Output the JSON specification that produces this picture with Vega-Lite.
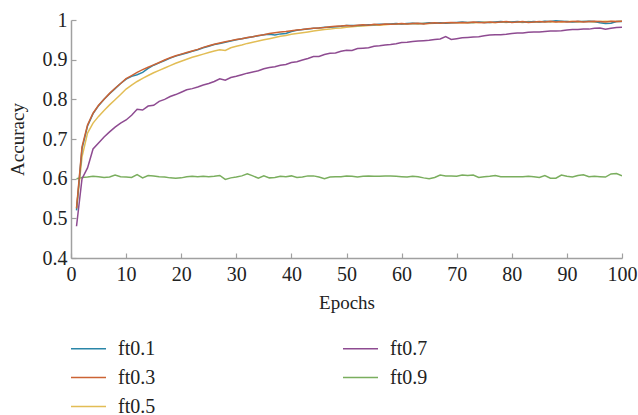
{
  "$schema": "https://vega.github.io/schema/vega-lite/v6.json",
  "width": 551,
  "height": 238,
  "autosize": {"type": "none"},
  "padding": {"left": 71, "top": 20, "right": 16, "bottom": 157},
  "background": "white",
  "config": {
    "view": {"stroke": null},
    "font": "Liberation Serif",
    "axis": {
      "grid": false,
      "domainColor": "#a0a0a0",
      "domainWidth": 1.5,
      "tickColor": "#a0a0a0",
      "tickWidth": 1.2,
      "tickSize": -5,
      "labelFont": "Liberation Serif",
      "labelFontSize": 20,
      "labelColor": "#222222",
      "titleFont": "Liberation Serif",
      "titleFontSize": 19,
      "titleFontWeight": "normal",
      "titleColor": "#222222"
    },
    "legend": {
      "labelFont": "Liberation Serif",
      "labelFontSize": 20,
      "labelColor": "#222222"
    }
  },
  "data": {"values": [
{"s":"ft0.9","e":1,"v":0.600},{"s":"ft0.9","e":2,"v":0.603},{"s":"ft0.9","e":3,"v":0.604},{"s":"ft0.9","e":4,"v":0.606},{"s":"ft0.9","e":5,"v":0.605},{"s":"ft0.9","e":6,"v":0.603},{"s":"ft0.9","e":7,"v":0.604},{"s":"ft0.9","e":8,"v":0.609},{"s":"ft0.9","e":9,"v":0.605},{"s":"ft0.9","e":10,"v":0.604},
{"s":"ft0.9","e":11,"v":0.603},{"s":"ft0.9","e":12,"v":0.610},{"s":"ft0.9","e":13,"v":0.602},{"s":"ft0.9","e":14,"v":0.608},{"s":"ft0.9","e":15,"v":0.607},{"s":"ft0.9","e":16,"v":0.605},{"s":"ft0.9","e":17,"v":0.604},{"s":"ft0.9","e":18,"v":0.602},{"s":"ft0.9","e":19,"v":0.601},{"s":"ft0.9","e":20,"v":0.602},
{"s":"ft0.9","e":21,"v":0.605},{"s":"ft0.9","e":22,"v":0.606},{"s":"ft0.9","e":23,"v":0.605},{"s":"ft0.9","e":24,"v":0.606},{"s":"ft0.9","e":25,"v":0.605},{"s":"ft0.9","e":26,"v":0.606},{"s":"ft0.9","e":27,"v":0.608},{"s":"ft0.9","e":28,"v":0.598},{"s":"ft0.9","e":29,"v":0.602},{"s":"ft0.9","e":30,"v":0.604},
{"s":"ft0.9","e":31,"v":0.607},{"s":"ft0.9","e":32,"v":0.612},{"s":"ft0.9","e":33,"v":0.607},{"s":"ft0.9","e":34,"v":0.601},{"s":"ft0.9","e":35,"v":0.607},{"s":"ft0.9","e":36,"v":0.602},{"s":"ft0.9","e":37,"v":0.603},{"s":"ft0.9","e":38,"v":0.606},{"s":"ft0.9","e":39,"v":0.605},{"s":"ft0.9","e":40,"v":0.607},
{"s":"ft0.9","e":41,"v":0.603},{"s":"ft0.9","e":42,"v":0.604},{"s":"ft0.9","e":43,"v":0.607},{"s":"ft0.9","e":44,"v":0.607},{"s":"ft0.9","e":45,"v":0.604},{"s":"ft0.9","e":46,"v":0.600},{"s":"ft0.9","e":47,"v":0.604},{"s":"ft0.9","e":48,"v":0.605},{"s":"ft0.9","e":49,"v":0.605},{"s":"ft0.9","e":50,"v":0.607},
{"s":"ft0.9","e":51,"v":0.606},{"s":"ft0.9","e":52,"v":0.604},{"s":"ft0.9","e":53,"v":0.606},{"s":"ft0.9","e":54,"v":0.607},{"s":"ft0.9","e":55,"v":0.606},{"s":"ft0.9","e":56,"v":0.606},{"s":"ft0.9","e":57,"v":0.607},{"s":"ft0.9","e":58,"v":0.607},{"s":"ft0.9","e":59,"v":0.606},{"s":"ft0.9","e":60,"v":0.605},
{"s":"ft0.9","e":61,"v":0.604},{"s":"ft0.9","e":62,"v":0.606},{"s":"ft0.9","e":63,"v":0.605},{"s":"ft0.9","e":64,"v":0.602},{"s":"ft0.9","e":65,"v":0.600},{"s":"ft0.9","e":66,"v":0.603},{"s":"ft0.9","e":67,"v":0.609},{"s":"ft0.9","e":68,"v":0.607},{"s":"ft0.9","e":69,"v":0.607},{"s":"ft0.9","e":70,"v":0.606},
{"s":"ft0.9","e":71,"v":0.609},{"s":"ft0.9","e":72,"v":0.608},{"s":"ft0.9","e":73,"v":0.609},{"s":"ft0.9","e":74,"v":0.603},{"s":"ft0.9","e":75,"v":0.605},{"s":"ft0.9","e":76,"v":0.606},{"s":"ft0.9","e":77,"v":0.608},{"s":"ft0.9","e":78,"v":0.605},{"s":"ft0.9","e":79,"v":0.605},{"s":"ft0.9","e":80,"v":0.605},
{"s":"ft0.9","e":81,"v":0.605},{"s":"ft0.9","e":82,"v":0.605},{"s":"ft0.9","e":83,"v":0.606},{"s":"ft0.9","e":84,"v":0.605},{"s":"ft0.9","e":85,"v":0.603},{"s":"ft0.9","e":86,"v":0.608},{"s":"ft0.9","e":87,"v":0.601},{"s":"ft0.9","e":88,"v":0.601},{"s":"ft0.9","e":89,"v":0.609},{"s":"ft0.9","e":90,"v":0.606},
{"s":"ft0.9","e":91,"v":0.604},{"s":"ft0.9","e":92,"v":0.608},{"s":"ft0.9","e":93,"v":0.610},{"s":"ft0.9","e":94,"v":0.605},{"s":"ft0.9","e":95,"v":0.606},{"s":"ft0.9","e":96,"v":0.605},{"s":"ft0.9","e":97,"v":0.604},{"s":"ft0.9","e":98,"v":0.612},{"s":"ft0.9","e":99,"v":0.613},{"s":"ft0.9","e":100,"v":0.607},
{"s":"ft0.7","e":1,"v":0.480},{"s":"ft0.7","e":2,"v":0.600},{"s":"ft0.7","e":3,"v":0.627},{"s":"ft0.7","e":4,"v":0.675},{"s":"ft0.7","e":5,"v":0.690},{"s":"ft0.7","e":6,"v":0.705},{"s":"ft0.7","e":7,"v":0.718},{"s":"ft0.7","e":8,"v":0.730},{"s":"ft0.7","e":9,"v":0.740},{"s":"ft0.7","e":10,"v":0.748},
{"s":"ft0.7","e":11,"v":0.760},{"s":"ft0.7","e":12,"v":0.775},{"s":"ft0.7","e":13,"v":0.773},{"s":"ft0.7","e":14,"v":0.783},{"s":"ft0.7","e":15,"v":0.785},{"s":"ft0.7","e":16,"v":0.795},{"s":"ft0.7","e":17,"v":0.800},{"s":"ft0.7","e":18,"v":0.807},{"s":"ft0.7","e":19,"v":0.812},{"s":"ft0.7","e":20,"v":0.818},
{"s":"ft0.7","e":21,"v":0.824},{"s":"ft0.7","e":22,"v":0.827},{"s":"ft0.7","e":23,"v":0.831},{"s":"ft0.7","e":24,"v":0.836},{"s":"ft0.7","e":25,"v":0.840},{"s":"ft0.7","e":26,"v":0.845},{"s":"ft0.7","e":27,"v":0.852},{"s":"ft0.7","e":28,"v":0.848},{"s":"ft0.7","e":29,"v":0.855},{"s":"ft0.7","e":30,"v":0.858},
{"s":"ft0.7","e":31,"v":0.862},{"s":"ft0.7","e":32,"v":0.866},{"s":"ft0.7","e":33,"v":0.869},{"s":"ft0.7","e":34,"v":0.872},{"s":"ft0.7","e":35,"v":0.877},{"s":"ft0.7","e":36,"v":0.880},{"s":"ft0.7","e":37,"v":0.882},{"s":"ft0.7","e":38,"v":0.886},{"s":"ft0.7","e":39,"v":0.888},{"s":"ft0.7","e":40,"v":0.893},
{"s":"ft0.7","e":41,"v":0.895},{"s":"ft0.7","e":42,"v":0.899},{"s":"ft0.7","e":43,"v":0.903},{"s":"ft0.7","e":44,"v":0.908},{"s":"ft0.7","e":45,"v":0.908},{"s":"ft0.7","e":46,"v":0.913},{"s":"ft0.7","e":47,"v":0.916},{"s":"ft0.7","e":48,"v":0.917},{"s":"ft0.7","e":49,"v":0.921},{"s":"ft0.7","e":50,"v":0.924},
{"s":"ft0.7","e":51,"v":0.923},{"s":"ft0.7","e":52,"v":0.928},{"s":"ft0.7","e":53,"v":0.929},{"s":"ft0.7","e":54,"v":0.930},{"s":"ft0.7","e":55,"v":0.934},{"s":"ft0.7","e":56,"v":0.935},{"s":"ft0.7","e":57,"v":0.937},{"s":"ft0.7","e":58,"v":0.938},{"s":"ft0.7","e":59,"v":0.940},{"s":"ft0.7","e":60,"v":0.943},
{"s":"ft0.7","e":61,"v":0.944},{"s":"ft0.7","e":62,"v":0.946},{"s":"ft0.7","e":63,"v":0.947},{"s":"ft0.7","e":64,"v":0.948},{"s":"ft0.7","e":65,"v":0.949},{"s":"ft0.7","e":66,"v":0.951},{"s":"ft0.7","e":67,"v":0.952},{"s":"ft0.7","e":68,"v":0.958},{"s":"ft0.7","e":69,"v":0.951},{"s":"ft0.7","e":70,"v":0.953},
{"s":"ft0.7","e":71,"v":0.955},{"s":"ft0.7","e":72,"v":0.956},{"s":"ft0.7","e":73,"v":0.957},{"s":"ft0.7","e":74,"v":0.958},{"s":"ft0.7","e":75,"v":0.960},{"s":"ft0.7","e":76,"v":0.962},{"s":"ft0.7","e":77,"v":0.963},{"s":"ft0.7","e":78,"v":0.963},{"s":"ft0.7","e":79,"v":0.964},{"s":"ft0.7","e":80,"v":0.966},
{"s":"ft0.7","e":81,"v":0.967},{"s":"ft0.7","e":82,"v":0.967},{"s":"ft0.7","e":83,"v":0.969},{"s":"ft0.7","e":84,"v":0.970},{"s":"ft0.7","e":85,"v":0.970},{"s":"ft0.7","e":86,"v":0.971},{"s":"ft0.7","e":87,"v":0.972},{"s":"ft0.7","e":88,"v":0.972},{"s":"ft0.7","e":89,"v":0.973},{"s":"ft0.7","e":90,"v":0.975},
{"s":"ft0.7","e":91,"v":0.976},{"s":"ft0.7","e":92,"v":0.976},{"s":"ft0.7","e":93,"v":0.977},{"s":"ft0.7","e":94,"v":0.977},{"s":"ft0.7","e":95,"v":0.979},{"s":"ft0.7","e":96,"v":0.980},{"s":"ft0.7","e":97,"v":0.977},{"s":"ft0.7","e":98,"v":0.979},{"s":"ft0.7","e":99,"v":0.981},{"s":"ft0.7","e":100,"v":0.982},
{"s":"ft0.5","e":1,"v":0.525},{"s":"ft0.5","e":2,"v":0.655},{"s":"ft0.5","e":3,"v":0.715},{"s":"ft0.5","e":4,"v":0.740},{"s":"ft0.5","e":5,"v":0.757},{"s":"ft0.5","e":6,"v":0.772},{"s":"ft0.5","e":7,"v":0.786},{"s":"ft0.5","e":8,"v":0.799},{"s":"ft0.5","e":9,"v":0.812},{"s":"ft0.5","e":10,"v":0.826},
{"s":"ft0.5","e":11,"v":0.836},{"s":"ft0.5","e":12,"v":0.845},{"s":"ft0.5","e":13,"v":0.853},{"s":"ft0.5","e":14,"v":0.860},{"s":"ft0.5","e":15,"v":0.867},{"s":"ft0.5","e":16,"v":0.873},{"s":"ft0.5","e":17,"v":0.879},{"s":"ft0.5","e":18,"v":0.885},{"s":"ft0.5","e":19,"v":0.891},{"s":"ft0.5","e":20,"v":0.896},
{"s":"ft0.5","e":21,"v":0.901},{"s":"ft0.5","e":22,"v":0.906},{"s":"ft0.5","e":23,"v":0.910},{"s":"ft0.5","e":24,"v":0.914},{"s":"ft0.5","e":25,"v":0.918},{"s":"ft0.5","e":26,"v":0.922},{"s":"ft0.5","e":27,"v":0.925},{"s":"ft0.5","e":28,"v":0.923},{"s":"ft0.5","e":29,"v":0.930},{"s":"ft0.5","e":30,"v":0.934},
{"s":"ft0.5","e":31,"v":0.937},{"s":"ft0.5","e":32,"v":0.941},{"s":"ft0.5","e":33,"v":0.944},{"s":"ft0.5","e":34,"v":0.947},{"s":"ft0.5","e":35,"v":0.950},{"s":"ft0.5","e":36,"v":0.953},{"s":"ft0.5","e":37,"v":0.956},{"s":"ft0.5","e":38,"v":0.959},{"s":"ft0.5","e":39,"v":0.961},{"s":"ft0.5","e":40,"v":0.964},
{"s":"ft0.5","e":41,"v":0.966},{"s":"ft0.5","e":42,"v":0.968},{"s":"ft0.5","e":43,"v":0.970},{"s":"ft0.5","e":44,"v":0.972},{"s":"ft0.5","e":45,"v":0.974},{"s":"ft0.5","e":46,"v":0.976},{"s":"ft0.5","e":47,"v":0.977},{"s":"ft0.5","e":48,"v":0.979},{"s":"ft0.5","e":49,"v":0.980},{"s":"ft0.5","e":50,"v":0.982},
{"s":"ft0.5","e":51,"v":0.983},{"s":"ft0.5","e":52,"v":0.984},{"s":"ft0.5","e":53,"v":0.985},{"s":"ft0.5","e":54,"v":0.986},{"s":"ft0.5","e":55,"v":0.987},{"s":"ft0.5","e":56,"v":0.987},{"s":"ft0.5","e":57,"v":0.988},{"s":"ft0.5","e":58,"v":0.989},{"s":"ft0.5","e":59,"v":0.989},{"s":"ft0.5","e":60,"v":0.990},
{"s":"ft0.5","e":61,"v":0.990},{"s":"ft0.5","e":62,"v":0.991},{"s":"ft0.5","e":63,"v":0.990},{"s":"ft0.5","e":64,"v":0.992},{"s":"ft0.5","e":65,"v":0.991},{"s":"ft0.5","e":66,"v":0.992},{"s":"ft0.5","e":67,"v":0.993},{"s":"ft0.5","e":68,"v":0.992},{"s":"ft0.5","e":69,"v":0.993},{"s":"ft0.5","e":70,"v":0.993},
{"s":"ft0.5","e":71,"v":0.993},{"s":"ft0.5","e":72,"v":0.994},{"s":"ft0.5","e":73,"v":0.993},{"s":"ft0.5","e":74,"v":0.994},{"s":"ft0.5","e":75,"v":0.995},{"s":"ft0.5","e":76,"v":0.994},{"s":"ft0.5","e":77,"v":0.994},{"s":"ft0.5","e":78,"v":0.995},{"s":"ft0.5","e":79,"v":0.994},{"s":"ft0.5","e":80,"v":0.995},
{"s":"ft0.5","e":81,"v":0.995},{"s":"ft0.5","e":82,"v":0.994},{"s":"ft0.5","e":83,"v":0.996},{"s":"ft0.5","e":84,"v":0.995},{"s":"ft0.5","e":85,"v":0.995},{"s":"ft0.5","e":86,"v":0.996},{"s":"ft0.5","e":87,"v":0.995},{"s":"ft0.5","e":88,"v":0.996},{"s":"ft0.5","e":89,"v":0.995},{"s":"ft0.5","e":90,"v":0.996},
{"s":"ft0.5","e":91,"v":0.996},{"s":"ft0.5","e":92,"v":0.995},{"s":"ft0.5","e":93,"v":0.996},{"s":"ft0.5","e":94,"v":0.996},{"s":"ft0.5","e":95,"v":0.995},{"s":"ft0.5","e":96,"v":0.996},{"s":"ft0.5","e":97,"v":0.997},{"s":"ft0.5","e":98,"v":0.996},{"s":"ft0.5","e":99,"v":0.996},{"s":"ft0.5","e":100,"v":0.997},
{"s":"ft0.1","e":1,"v":0.520},{"s":"ft0.1","e":2,"v":0.676},{"s":"ft0.1","e":3,"v":0.733},{"s":"ft0.1","e":4,"v":0.764},{"s":"ft0.1","e":5,"v":0.784},{"s":"ft0.1","e":6,"v":0.800},{"s":"ft0.1","e":7,"v":0.814},{"s":"ft0.1","e":8,"v":0.827},{"s":"ft0.1","e":9,"v":0.840},{"s":"ft0.1","e":10,"v":0.851},
{"s":"ft0.1","e":11,"v":0.858},{"s":"ft0.1","e":12,"v":0.862},{"s":"ft0.1","e":13,"v":0.868},{"s":"ft0.1","e":14,"v":0.878},{"s":"ft0.1","e":15,"v":0.886},{"s":"ft0.1","e":16,"v":0.892},{"s":"ft0.1","e":17,"v":0.898},{"s":"ft0.1","e":18,"v":0.904},{"s":"ft0.1","e":19,"v":0.909},{"s":"ft0.1","e":20,"v":0.913},
{"s":"ft0.1","e":21,"v":0.917},{"s":"ft0.1","e":22,"v":0.921},{"s":"ft0.1","e":23,"v":0.925},{"s":"ft0.1","e":24,"v":0.930},{"s":"ft0.1","e":25,"v":0.934},{"s":"ft0.1","e":26,"v":0.938},{"s":"ft0.1","e":27,"v":0.941},{"s":"ft0.1","e":28,"v":0.944},{"s":"ft0.1","e":29,"v":0.947},{"s":"ft0.1","e":30,"v":0.950},
{"s":"ft0.1","e":31,"v":0.953},{"s":"ft0.1","e":32,"v":0.955},{"s":"ft0.1","e":33,"v":0.958},{"s":"ft0.1","e":34,"v":0.960},{"s":"ft0.1","e":35,"v":0.963},{"s":"ft0.1","e":36,"v":0.964},{"s":"ft0.1","e":37,"v":0.962},{"s":"ft0.1","e":38,"v":0.965},{"s":"ft0.1","e":39,"v":0.966},{"s":"ft0.1","e":40,"v":0.971},
{"s":"ft0.1","e":41,"v":0.974},{"s":"ft0.1","e":42,"v":0.976},{"s":"ft0.1","e":43,"v":0.977},{"s":"ft0.1","e":44,"v":0.979},{"s":"ft0.1","e":45,"v":0.980},{"s":"ft0.1","e":46,"v":0.982},{"s":"ft0.1","e":47,"v":0.982},{"s":"ft0.1","e":48,"v":0.983},{"s":"ft0.1","e":49,"v":0.984},{"s":"ft0.1","e":50,"v":0.986},
{"s":"ft0.1","e":51,"v":0.986},{"s":"ft0.1","e":52,"v":0.986},{"s":"ft0.1","e":53,"v":0.987},{"s":"ft0.1","e":54,"v":0.988},{"s":"ft0.1","e":55,"v":0.988},{"s":"ft0.1","e":56,"v":0.989},{"s":"ft0.1","e":57,"v":0.989},{"s":"ft0.1","e":58,"v":0.990},{"s":"ft0.1","e":59,"v":0.991},{"s":"ft0.1","e":60,"v":0.990},
{"s":"ft0.1","e":61,"v":0.991},{"s":"ft0.1","e":62,"v":0.992},{"s":"ft0.1","e":63,"v":0.991},{"s":"ft0.1","e":64,"v":0.991},{"s":"ft0.1","e":65,"v":0.993},{"s":"ft0.1","e":66,"v":0.992},{"s":"ft0.1","e":67,"v":0.993},{"s":"ft0.1","e":68,"v":0.992},{"s":"ft0.1","e":69,"v":0.993},{"s":"ft0.1","e":70,"v":0.994},
{"s":"ft0.1","e":71,"v":0.995},{"s":"ft0.1","e":72,"v":0.994},{"s":"ft0.1","e":73,"v":0.994},{"s":"ft0.1","e":74,"v":0.995},{"s":"ft0.1","e":75,"v":0.994},{"s":"ft0.1","e":76,"v":0.994},{"s":"ft0.1","e":77,"v":0.995},{"s":"ft0.1","e":78,"v":0.996},{"s":"ft0.1","e":79,"v":0.995},{"s":"ft0.1","e":80,"v":0.995},
{"s":"ft0.1","e":81,"v":0.996},{"s":"ft0.1","e":82,"v":0.995},{"s":"ft0.1","e":83,"v":0.995},{"s":"ft0.1","e":84,"v":0.996},{"s":"ft0.1","e":85,"v":0.995},{"s":"ft0.1","e":86,"v":0.997},{"s":"ft0.1","e":87,"v":0.996},{"s":"ft0.1","e":88,"v":0.998},{"s":"ft0.1","e":89,"v":0.997},{"s":"ft0.1","e":90,"v":0.996},
{"s":"ft0.1","e":91,"v":0.995},{"s":"ft0.1","e":92,"v":0.996},{"s":"ft0.1","e":93,"v":0.996},{"s":"ft0.1","e":94,"v":0.997},{"s":"ft0.1","e":95,"v":0.996},{"s":"ft0.1","e":96,"v":0.993},{"s":"ft0.1","e":97,"v":0.991},{"s":"ft0.1","e":98,"v":0.992},{"s":"ft0.1","e":99,"v":0.996},{"s":"ft0.1","e":100,"v":0.996},
{"s":"ft0.3","e":1,"v":0.525},{"s":"ft0.3","e":2,"v":0.680},{"s":"ft0.3","e":3,"v":0.735},{"s":"ft0.3","e":4,"v":0.765},{"s":"ft0.3","e":5,"v":0.785},{"s":"ft0.3","e":6,"v":0.800},{"s":"ft0.3","e":7,"v":0.815},{"s":"ft0.3","e":8,"v":0.828},{"s":"ft0.3","e":9,"v":0.840},{"s":"ft0.3","e":10,"v":0.852},
{"s":"ft0.3","e":11,"v":0.860},{"s":"ft0.3","e":12,"v":0.868},{"s":"ft0.3","e":13,"v":0.875},{"s":"ft0.3","e":14,"v":0.881},{"s":"ft0.3","e":15,"v":0.887},{"s":"ft0.3","e":16,"v":0.893},{"s":"ft0.3","e":17,"v":0.899},{"s":"ft0.3","e":18,"v":0.905},{"s":"ft0.3","e":19,"v":0.910},{"s":"ft0.3","e":20,"v":0.914},
{"s":"ft0.3","e":21,"v":0.918},{"s":"ft0.3","e":22,"v":0.922},{"s":"ft0.3","e":23,"v":0.926},{"s":"ft0.3","e":24,"v":0.931},{"s":"ft0.3","e":25,"v":0.935},{"s":"ft0.3","e":26,"v":0.939},{"s":"ft0.3","e":27,"v":0.942},{"s":"ft0.3","e":28,"v":0.945},{"s":"ft0.3","e":29,"v":0.948},{"s":"ft0.3","e":30,"v":0.951},
{"s":"ft0.3","e":31,"v":0.953},{"s":"ft0.3","e":32,"v":0.956},{"s":"ft0.3","e":33,"v":0.958},{"s":"ft0.3","e":34,"v":0.961},{"s":"ft0.3","e":35,"v":0.963},{"s":"ft0.3","e":36,"v":0.966},{"s":"ft0.3","e":37,"v":0.968},{"s":"ft0.3","e":38,"v":0.970},{"s":"ft0.3","e":39,"v":0.971},{"s":"ft0.3","e":40,"v":0.973},
{"s":"ft0.3","e":41,"v":0.975},{"s":"ft0.3","e":42,"v":0.976},{"s":"ft0.3","e":43,"v":0.978},{"s":"ft0.3","e":44,"v":0.979},{"s":"ft0.3","e":45,"v":0.980},{"s":"ft0.3","e":46,"v":0.981},{"s":"ft0.3","e":47,"v":0.983},{"s":"ft0.3","e":48,"v":0.984},{"s":"ft0.3","e":49,"v":0.985},{"s":"ft0.3","e":50,"v":0.986},
{"s":"ft0.3","e":51,"v":0.985},{"s":"ft0.3","e":52,"v":0.987},{"s":"ft0.3","e":53,"v":0.988},{"s":"ft0.3","e":54,"v":0.987},{"s":"ft0.3","e":55,"v":0.989},{"s":"ft0.3","e":56,"v":0.988},{"s":"ft0.3","e":57,"v":0.990},{"s":"ft0.3","e":58,"v":0.989},{"s":"ft0.3","e":59,"v":0.990},{"s":"ft0.3","e":60,"v":0.991},
{"s":"ft0.3","e":61,"v":0.990},{"s":"ft0.3","e":62,"v":0.991},{"s":"ft0.3","e":63,"v":0.992},{"s":"ft0.3","e":64,"v":0.990},{"s":"ft0.3","e":65,"v":0.992},{"s":"ft0.3","e":66,"v":0.993},{"s":"ft0.3","e":67,"v":0.992},{"s":"ft0.3","e":68,"v":0.993},{"s":"ft0.3","e":69,"v":0.994},{"s":"ft0.3","e":70,"v":0.993},
{"s":"ft0.3","e":71,"v":0.994},{"s":"ft0.3","e":72,"v":0.993},{"s":"ft0.3","e":73,"v":0.995},{"s":"ft0.3","e":74,"v":0.994},{"s":"ft0.3","e":75,"v":0.993},{"s":"ft0.3","e":76,"v":0.995},{"s":"ft0.3","e":77,"v":0.994},{"s":"ft0.3","e":78,"v":0.995},{"s":"ft0.3","e":79,"v":0.996},{"s":"ft0.3","e":80,"v":0.994},
{"s":"ft0.3","e":81,"v":0.995},{"s":"ft0.3","e":82,"v":0.996},{"s":"ft0.3","e":83,"v":0.994},{"s":"ft0.3","e":84,"v":0.995},{"s":"ft0.3","e":85,"v":0.996},{"s":"ft0.3","e":86,"v":0.995},{"s":"ft0.3","e":87,"v":0.997},{"s":"ft0.3","e":88,"v":0.995},{"s":"ft0.3","e":89,"v":0.996},{"s":"ft0.3","e":90,"v":0.995},
{"s":"ft0.3","e":91,"v":0.996},{"s":"ft0.3","e":92,"v":0.997},{"s":"ft0.3","e":93,"v":0.995},{"s":"ft0.3","e":94,"v":0.996},{"s":"ft0.3","e":95,"v":0.997},{"s":"ft0.3","e":96,"v":0.996},{"s":"ft0.3","e":97,"v":0.995},{"s":"ft0.3","e":98,"v":0.997},{"s":"ft0.3","e":99,"v":0.996},{"s":"ft0.3","e":100,"v":0.997}
  ]},
  "mark": {"type": "line", "strokeWidth": 1.5, "clip": true},
  "encoding": {
    "x": {
      "field": "e", "type": "quantitative", "title": "Epochs",
      "scale": {"domain": [0, 100], "nice": false},
      "axis": {"values": [0,10,20,30,40,50,60,70,80,90,100], "labelPadding": 11, "titlePadding": 9, "labelFlush": false, "labelOverlap": false}
    },
    "y": {
      "field": "v", "type": "quantitative", "title": "Accuracy",
      "scale": {"domain": [0.4, 1], "nice": false, "zero": false},
      "axis": {"values": [0.4,0.5,0.6,0.7,0.8,0.9,1], "labelExpr": "datum.value == 1 ? '1' : format(datum.value, '.1f')", "labelPadding": 9, "titlePadding": 15, "labelFlush": false, "labelOverlap": false}
    },
    "color": {
      "field": "s", "type": "nominal",
      "scale": {
        "domain": ["ft0.1", "ft0.3", "ft0.5", "ft0.7", "ft0.9"],
        "range": ["#2a86a8", "#cc6334", "#e2bd55", "#8e4b91", "#7aae5e"]
      },
      "legend": {
        "title": null,
        "orient": "none",
        "legendX": -1,
        "legendY": 310,
        "columns": 2,
        "symbolType": "stroke",
        "symbolSize": 1225,
        "symbolStrokeWidth": 1.5,
        "labelOffset": 11,
        "columnPadding": 184,
        "rowPadding": -6.5
      }
    }
  }
}
